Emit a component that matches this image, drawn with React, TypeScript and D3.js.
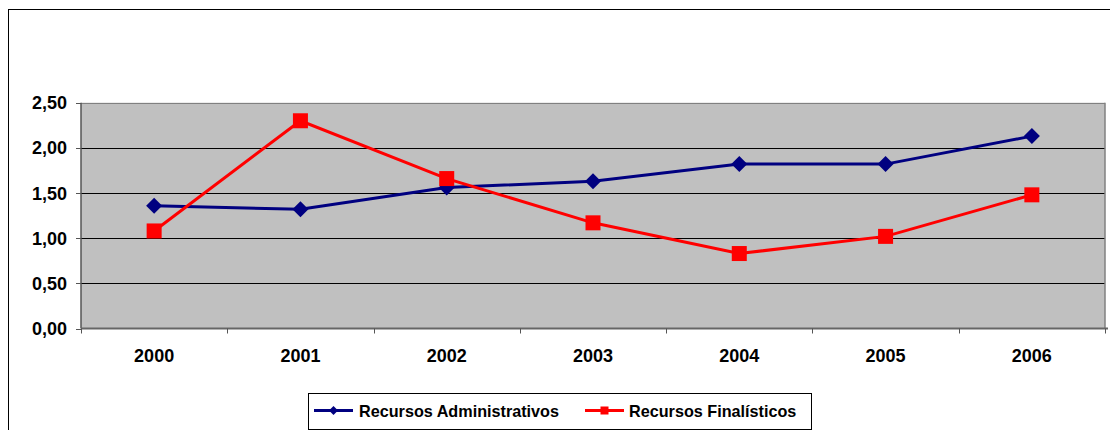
import React from "react";
import * as d3 from "d3";

const years = ["2000", "2001", "2002", "2003", "2004", "2005", "2006"];
const admin = [1.36, 1.32, 1.56, 1.63, 1.82, 1.82, 2.13];
const finalisticos = [1.08, 2.3, 1.66, 1.17, 0.83, 1.02, 1.48];
const yTicks = [0, 0.5, 1, 1.5, 2, 2.5];
const seriesNames = ["Recursos Administrativos", "Recursos Finalísticos"];

const fmt = (v: number) => v.toFixed(2).replace(".", ",");

export default function App() {
  const W = 1110, H = 430;
  const left = 81, right = 1105, top = 102.7, bottom = 328.5;
  const x = d3.scaleBand<string>().domain(years).range([left, right]);
  const y = d3.scaleLinear().domain([0, 2.5]).range([bottom, top]);
  const snap = (v: number) => Math.round(v) + 0.5;
  const cx = (yr: string) => (x(yr) as number) + x.bandwidth() / 2;
  const line = d3
    .line<number>()
    .x((_, i) => cx(years[i]))
    .y((d) => y(d));
  const font = "'Liberation Sans', Arial, sans-serif";
  const diamond = (px: number, py: number, r: number) =>
    `M${px},${py - r}L${px + r},${py}L${px},${py + r}L${px - r},${py}Z`;
  const boundaries = d3.range(years.length + 1).map((i) => left + i * x.step());

  return (
    <svg
      width={W}
      height={H}
      style={{ position: "absolute", left: 0, top: 0, background: "#fff" }}
      fontFamily={font}
    >
      {/* outer chart frame */}
      <rect x={8.5} y={9.5} width={W + 10} height={H + 10} fill="#fff" stroke="#000" strokeWidth={1} />
      {/* plot area */}
      <rect x={left} y={top} width={right - left} height={bottom - top} fill="#C0C0C0" />
      {yTicks.slice(1).map((t) => (
        <line key={t} x1={left} x2={right} y1={snap(y(t))} y2={snap(y(t))} stroke={t === 2.5 ? "#808080" : "#000"} strokeWidth={1} />
      ))}
      <line x1={right} x2={right} y1={top} y2={bottom} stroke="#808080" strokeWidth={1.5} />
      {/* axes */}
      <line x1={left} x2={left} y1={top} y2={bottom} stroke="#555" strokeWidth={1.5} />
      <line x1={left} x2={right + 3} y1={bottom} y2={bottom} stroke="#666" strokeWidth={2} />
      {yTicks.map((t) => (
        <g key={t}>
          <line x1={left - 5} x2={left} y1={snap(y(t))} y2={snap(y(t))} stroke="#555" strokeWidth={1} />
          <text x={67} y={y(t) + 6.5} textAnchor="end" fontSize={18} fontWeight="bold" fill="#000">
            {fmt(t)}
          </text>
        </g>
      ))}
      {boundaries.map((b, i) => (
        <line key={i} x1={snap(b)} x2={snap(b)} y1={bottom} y2={bottom + 5} stroke="#555" strokeWidth={1} />
      ))}
      {years.map((yr) => (
        <text key={yr} x={cx(yr)} y={362} textAnchor="middle" fontSize={18} fontWeight="bold" fill="#000">
          {yr}
        </text>
      ))}
      {/* series */}
      <path d={line(admin) || ""} fill="none" stroke="#000080" strokeWidth={3} />
      {admin.map((v, i) => (
        <path key={i} d={diamond(cx(years[i]), y(v), 8)} fill="#000080" />
      ))}
      <path d={line(finalisticos) || ""} fill="none" stroke="#FF0000" strokeWidth={3} />
      {finalisticos.map((v, i) => (
        <rect key={i} x={cx(years[i]) - 7.5} y={y(v) - 7.5} width={15} height={15} fill="#FF0000" />
      ))}
      {/* legend */}
      <rect x={308.5} y={393.5} width={503} height={36} fill="#fff" stroke="#000" strokeWidth={1} />
      <line x1={314} x2={353} y1={410.5} y2={410.5} stroke="#000080" strokeWidth={3} />
      <path d={diamond(333.5, 410.5, 4.5)} fill="#000080" />
      <text x={359} y={416.5} fontSize={16.2} fontWeight="bold" fill="#000">
        {seriesNames[0]}
      </text>
      <line x1={585} x2={624} y1={410.5} y2={410.5} stroke="#FF0000" strokeWidth={3} />
      <rect x={600.5} y={406.5} width={8} height={8} fill="#FF0000" />
      <text x={629} y={416.5} fontSize={16.2} fontWeight="bold" fill="#000">
        {seriesNames[1]}
      </text>
    </svg>
  );
}
